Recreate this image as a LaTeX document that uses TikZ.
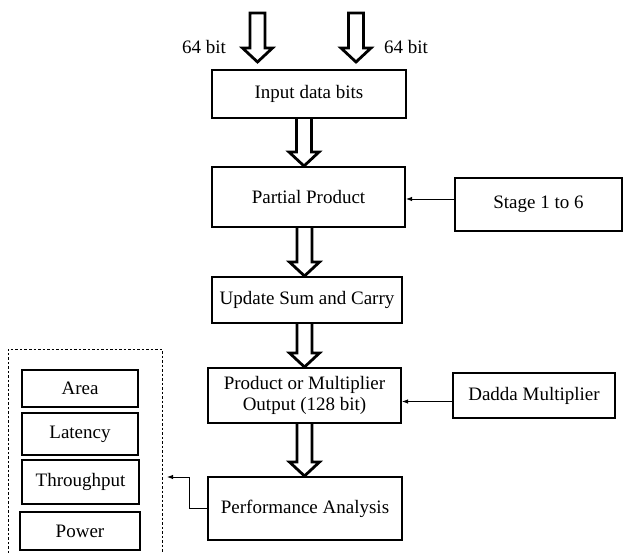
\documentclass[tikz,border=0pt]{standalone}
\usepackage{fontspec}
\setmainfont{Liberation Serif}
\usetikzlibrary{calc,arrows.meta}
\tikzset{
  box/.style={draw, line width=2pt, inner sep=0pt, align=center, font=\fontsize{19}{20.5}\selectfont},
  lbl/.style={inner sep=0pt, font=\fontsize{19}{20.5}\selectfont},
  hollow/.style={line width=2.8pt, fill=white, line join=miter},
  thinarrow/.style={line width=0.9pt, -{Latex[length=6pt,width=4.5pt]}},
  dashbox/.style={line width=0.8pt, dash pattern=on 2.5pt off 2pt}
}
\newcommand\blockarrow[3]{%
  \draw[hollow] let \p1=#1, \p2=#2 in
    (\x1-7.5pt,\y1) -- (\x1-7.5pt,\y2+14pt) -- (\x1-15pt,\y2+14pt) -- (\x1,\y2)
    -- (\x1+15pt,\y2+14pt) -- (\x1+7.5pt,\y2+14pt) -- (\x1+7.5pt,\y1) #3;}
\begin{document}
\begin{tikzpicture}[x=1pt,y=-1pt]
\useasboundingbox (0,0) rectangle (624,552);
% main column
\node[box, minimum width=194, minimum height=48] (inp) at (309,94) {Input data bits};
\node[box, minimum width=193, minimum height=60] (pp) at (308.5,197) {Partial Product};
\node[box, minimum width=190, minimum height=46] (usc) at (307,300) {Update Sum and Carry};
\node[box, minimum width=193, minimum height=55] (prod) at (304.5,395.5) {Product or Multiplier\\Output (128 bit)};
\node[box, minimum width=194, minimum height=63] (perf) at (305,508.5) {Performance Analysis};
% side boxes
\node[box, minimum width=167, minimum height=53] (stage) at (538.5,204.5) {Stage 1 to 6};
\node[box, minimum width=162, minimum height=45] (dadda) at (534,395.5) {Dadda Multiplier};
% metrics
\node[box, line width=2.5pt, minimum width=116, minimum height=37] (area) at (80,388.5) {Area};
\node[box, line width=2.5pt, minimum width=116, minimum height=42] (lat) at (80,434) {Latency};
\node[box, line width=2.5pt, minimum width=117, minimum height=44] (thr) at (80.5,482) {Throughput};
\node[box, line width=2.5pt, minimum width=120, minimum height=38] (pow) at (80,531) {Power};
\draw[dashbox] (8,553) -- (8,349) -- (162,349) -- (162,553);
\coordinate (dashR) at (162,477);
% input labels
\node[lbl] (l1) at (204,47) {64 bit};
\node[lbl] (l2) at (406,47) {64 bit};
% block arrows
\coordinate (inA) at (257.5,13);
\coordinate (inB) at (356,13);
\blockarrow{(inA)}{($(inA |- inp.north)+(0,-7)$)}{-- cycle}
\blockarrow{(inB)}{($(inB |- inp.north)+(0,-7)$)}{-- cycle}
\blockarrow{($(inp.south)+(-5,0)$)}{(pp.north)}{}
\blockarrow{($(pp.south)+(-4,0)$)}{(usc.north)}{}
\blockarrow{($(usc.south)+(-2.5,0)$)}{(prod.north)}{}
\blockarrow{($(prod.south)+(0,0)$)}{(perf.north)}{}
% thin arrows
\draw[thinarrow] ($(stage.west |- pp.east)+(0,2)$) -- ($(pp.east)+(0,2)$);
\draw[thinarrow] ($(dadda.west)+(0,6)$) -- ($(dadda.west -| prod.east)+(0,6)$);
\draw[thinarrow] (perf.west) -- ++(-18,0) |- ($(dashR)+(5,0)$);
\end{tikzpicture}
\end{document}
